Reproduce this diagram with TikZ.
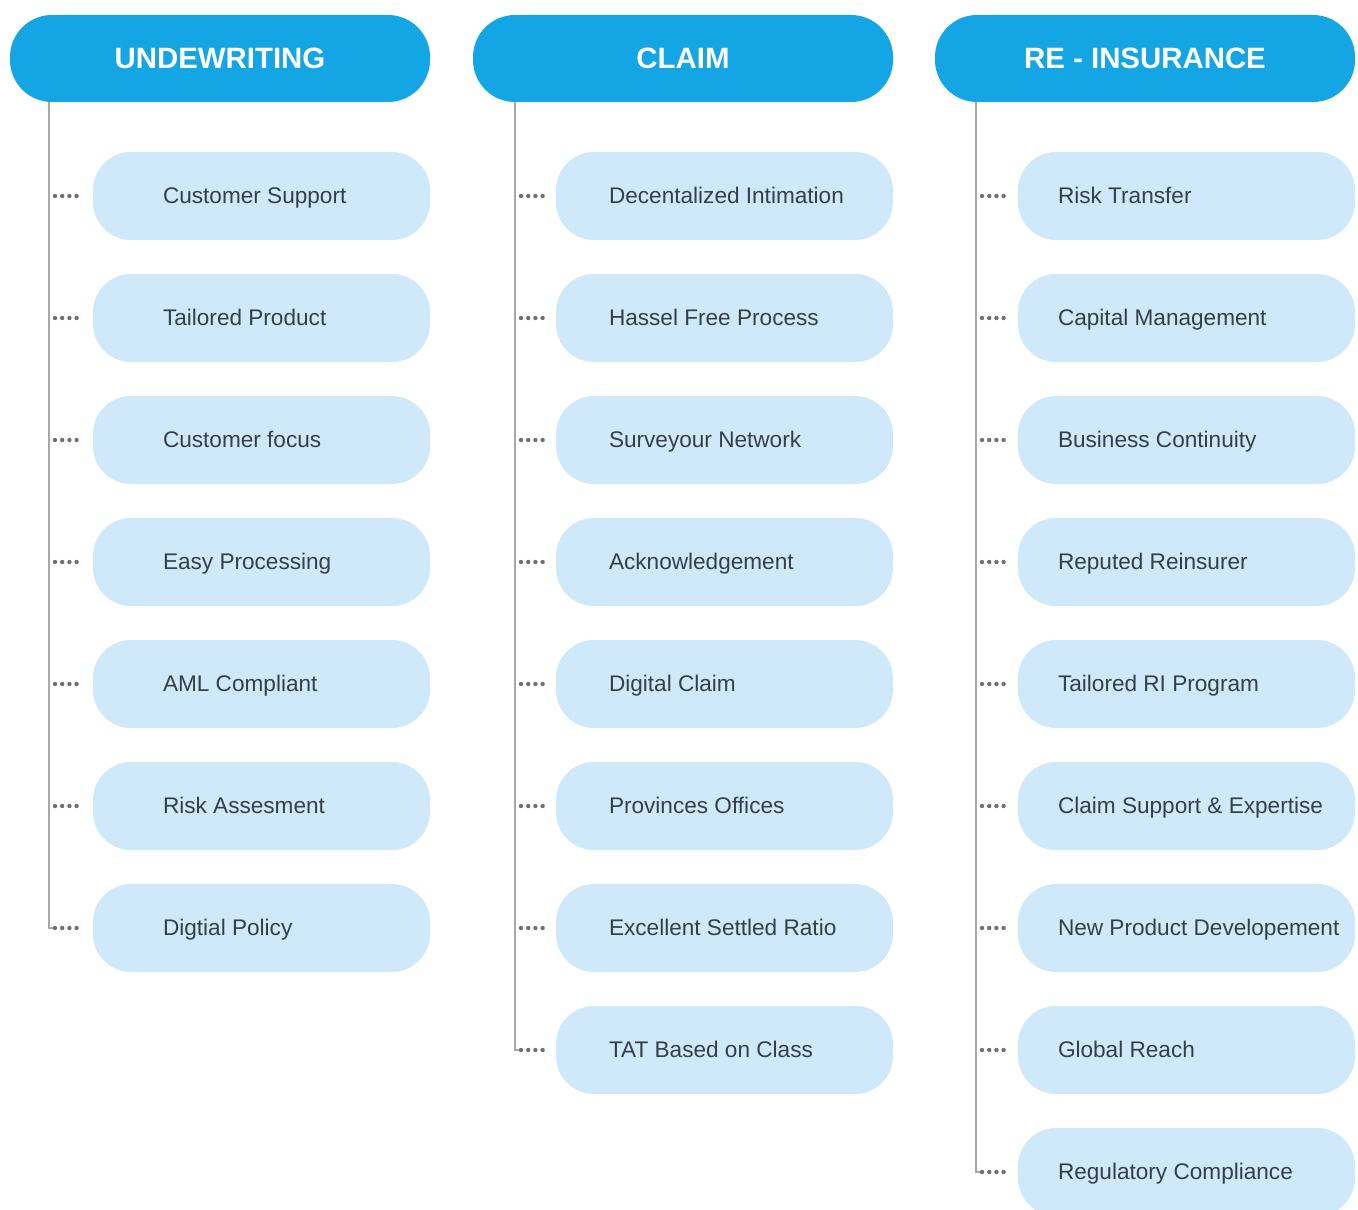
\documentclass[tikz,border=0pt]{standalone}
\usepackage{fontspec}
\setmainfont{Liberation Sans}

\definecolor{headblue}{HTML}{14A6E4}
\definecolor{itemblue}{HTML}{CFE9FA}
\definecolor{spinegray}{HTML}{A8A8A8}
\definecolor{dotgray}{HTML}{707070}
\definecolor{itemink}{HTML}{33404C}

\tikzset{
  header/.style={fill=headblue, rounded corners=21pt, minimum width=210pt,
    minimum height=43.5pt, inner sep=0pt, text=white,
    font=\bfseries\fontsize{14.7}{17}\selectfont},
  itembox/.style={fill=itemblue, rounded corners=19pt, minimum width=168.5pt,
    minimum height=44pt, inner sep=0pt},
  itemlabel/.style={anchor=west, inner sep=0pt, text=itemink,
    text height=8.8pt, text depth=1.4pt,
    font=\fontsize{11.3}{14}\selectfont},
  spine/.style={draw=spinegray, line width=1pt},
  dots/.style={draw=dotgray, line width=2.2pt, line cap=round,
    dash pattern=on 0pt off 3.6pt},
}

\begin{document}
\begin{tikzpicture}[x=0.5pt, y=-0.5pt]
  \useasboundingbox (0,0) rectangle (1358,1209);

  % spine anchors, hidden under the header pills
  \coordinate (sp1) at (49,80);
  \coordinate (sp2) at (515,80);
  \coordinate (sp3) at (976,80);

  % column 1: underwriting
  \foreach \t [count=\k] in {Customer Support, Tailored Product, Customer focus,
      Easy Processing, AML Compliant, Risk Assesment, Digtial Policy}{
    \node[itembox] (a\k) at (261.5,{196+122*(\k-1)}) {};
    \node[itemlabel] (a\k t) at ([xshift=35pt]a\k.west) {\t};
    \draw[dots] ([xshift=3pt]sp1 |- a\k.west) -- ([xshift=-5pt]a\k.west);
  }
  % column 2: claim
  \foreach \t [count=\k] in {Decentalized Intimation, Hassel Free Process,
      Surveyour Network, Acknowledgement, Digital Claim, Provinces Offices,
      Excellent Settled Ratio, TAT Based on Class}{
    \node[itembox] (b\k) at (724.5,{196+122*(\k-1)}) {};
    \node[itemlabel] (b\k t) at ([xshift=26.5pt]b\k.west) {\t};
    \draw[dots] ([xshift=3pt]sp2 |- b\k.west) -- ([xshift=-5pt]b\k.west);
  }
  % column 3: re-insurance
  \foreach \t [count=\k] in {Risk Transfer, Capital Management,
      Business Continuity, Reputed Reinsurer, Tailored RI Program,
      Claim Support \& Expertise, New Product Developement, Global Reach,
      Regulatory Compliance}{
    \node[itembox] (c\k) at (1186.5,{196+122*(\k-1)}) {};
    \node[itemlabel] (c\k t) at ([xshift=20pt]c\k.west) {\t};
    \draw[dots] ([xshift=3pt]sp3 |- c\k.west) -- ([xshift=-5pt]c\k.west);
  }

  % vertical spines ending in a small corner at the last item
  \draw[spine] (sp1) -- (sp1 |- a7.west) -- ([xshift=2pt]sp1 |- a7.west);
  \draw[spine] (sp2) -- (sp2 |- b8.west) -- ([xshift=2pt]sp2 |- b8.west);
  \draw[spine] (sp3) -- (sp3 |- c9.west) -- ([xshift=2pt]sp3 |- c9.west);

  % column headers
  \node[header] (h1) at (220,58.5) {UNDEWRITING};
  \node[header] (h2) at (683,58.5) {CLAIM};
  \node[header] (h3) at (1145,58.5) {RE - INSURANCE};
\end{tikzpicture}
\end{document}
